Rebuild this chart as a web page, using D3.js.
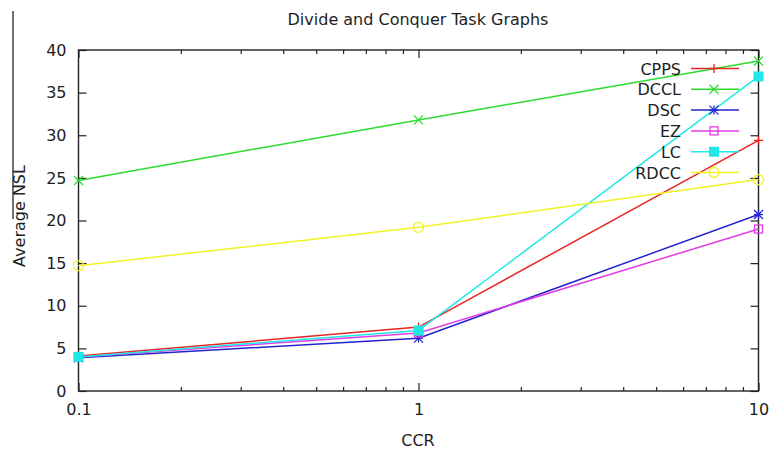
<!DOCTYPE html>
<html>
<head>
<meta charset="utf-8">
<script src="https://cdn.jsdelivr.net/npm/d3@7"></script>
<style>
  html, body { margin: 0; padding: 0; background: #fff; }
  svg { display: block; font-family: "DejaVu Sans", sans-serif; }
</style>
</head>
<body>
<svg id="chart" width="771" height="452"></svg>
<script>
// CCR values on the (log) x axis
const ccr = [0.1, 1, 10];
// Average NSL per algorithm, one value per CCR
const cpps = [4.1, 7.5, 29.4];
const dccl = [24.7, 31.8, 38.7];
const dsc  = [3.9, 6.2, 20.7];
const ez   = [4.0, 6.8, 19.0];
const lc   = [4.0, 7.1, 36.9];
const rdcc = [14.7, 19.2, 24.8];
const seriesNames = ["CPPS", "DCCL", "DSC", "EZ", "LC", "RDCC"];
const yTicks = [0, 5, 10, 15, 20, 25, 30, 35, 40];
const xTickLabels = ["0.1", "1", "10"];

const series = [
  { name: "CPPS", values: cpps, color: "#e82424", marker: "plus" },
  { name: "DCCL", values: dccl, color: "#2cdc2c", marker: "cross" },
  { name: "DSC",  values: dsc,  color: "#2424cc", marker: "star" },
  { name: "EZ",   values: ez,   color: "#e43ce4", marker: "square" },
  { name: "LC",   values: lc,   color: "#20e8e8", marker: "fsquare" },
  { name: "RDCC", values: rdcc, color: "#f2f224", marker: "circle" }
];

const svg = d3.select("#chart");
const plotL = 78.5, plotR = 758.5, plotT = 50, plotB = 391;
const fs = 16, textColor = "#1e1e1e";

const x = d3.scaleLog().domain([0.1, 10]).range([plotL, plotR]);
const y = d3.scaleLinear().domain([0, 40]).range([plotB, plotT]);

const axisColor = "#222";

// Title
svg.append("text").attr("x", 418).attr("y", 25).attr("text-anchor", "middle")
  .attr("font-size", fs).attr("fill", textColor).text("Divide and Conquer Task Graphs");

// Thin rule at far left
svg.append("line").attr("x1", 13).attr("x2", 13).attr("y1", 11).attr("y2", 219)
  .attr("stroke", "#111").attr("stroke-width", 1.2);

// Y axis label
svg.append("text").attr("transform", "translate(25,216) rotate(-90)")
  .attr("text-anchor", "middle").attr("font-size", fs).attr("fill", textColor).text("Average NSL");

// X axis label
svg.append("text").attr("x", 418).attr("y", 446).attr("text-anchor", "middle")
  .attr("font-size", fs).attr("fill", textColor).text("CCR");

// Axes: ticks point inward, mirrored on the opposite side
const gAxes = svg.append("g");
const yLeft = d3.axisLeft(y).tickValues(yTicks).tickSize(-8).tickPadding(12);
const yRight = d3.axisRight(y).tickValues(yTicks).tickSize(-8).tickFormat("");
const majors = ccr;
const minors = [];
[0.1, 1].forEach(d => { for (let k = 2; k <= 9; k++) minors.push(d * k); });
const xBottom = d3.axisBottom(x).tickValues(majors).tickSize(-8).tickPadding(13)
  .tickFormat((d, i) => xTickLabels[i]);
const xTop = d3.axisTop(x).tickValues(majors).tickSize(-8).tickFormat("");
const xBottomMinor = d3.axisBottom(x).tickValues(minors).tickSize(-4).tickFormat("");
const xTopMinor = d3.axisTop(x).tickValues(minors).tickSize(-4).tickFormat("");

function styleAxis(g) {
  g.select(".domain").remove();
  g.selectAll("line").attr("stroke", axisColor).attr("stroke-width", 1.2);
  g.selectAll("text").attr("font-size", fs).attr("fill", textColor)
    .attr("font-family", "DejaVu Sans, sans-serif");
}
gAxes.append("g").attr("transform", `translate(${plotL},0)`).call(yLeft).call(styleAxis);
gAxes.append("g").attr("transform", `translate(${plotR},0)`).call(yRight).call(styleAxis);
gAxes.append("g").attr("transform", `translate(0,${plotB})`).call(xBottom).call(styleAxis);
gAxes.append("g").attr("transform", `translate(0,${plotT})`).call(xTop).call(styleAxis);
gAxes.append("g").attr("transform", `translate(0,${plotB})`).call(xBottomMinor).call(styleAxis);
gAxes.append("g").attr("transform", `translate(0,${plotT})`).call(xTopMinor).call(styleAxis);

// Plot frame
svg.append("rect").attr("x", plotL).attr("y", plotT).attr("width", plotR - plotL)
  .attr("height", plotB - plotT).attr("fill", "none").attr("stroke", axisColor).attr("stroke-width", 1.4);

// Marker drawing
function drawMarker(g, type, cx, cy, color) {
  const s = 4.5;
  const line = (x1, y1, x2, y2) => g.append("line").attr("x1", x1).attr("y1", y1)
    .attr("x2", x2).attr("y2", y2).attr("stroke", color).attr("stroke-width", 1.3);
  if (type === "plus") {
    line(cx - s, cy, cx + s, cy); line(cx, cy - s, cx, cy + s);
  } else if (type === "cross") {
    line(cx - s, cy - s, cx + s, cy + s); line(cx - s, cy + s, cx + s, cy - s);
  } else if (type === "star") {
    line(cx - s, cy - s, cx + s, cy + s); line(cx - s, cy + s, cx + s, cy - s);
    line(cx - s, cy, cx + s, cy); line(cx, cy - s, cx, cy + s);
  } else if (type === "square") {
    g.append("rect").attr("x", cx - 4).attr("y", cy - 4).attr("width", 8).attr("height", 8)
      .attr("fill", "none").attr("stroke", color).attr("stroke-width", 1.3);
  } else if (type === "fsquare") {
    g.append("rect").attr("x", cx - 5).attr("y", cy - 5).attr("width", 10).attr("height", 10)
      .attr("fill", color);
  } else if (type === "circle") {
    g.append("circle").attr("cx", cx).attr("cy", cy).attr("r", 5)
      .attr("fill", "none").attr("stroke", color).attr("stroke-width", 1.3);
  }
}

// Series lines and points
const lineGen = d3.line().x(d => x(d[0])).y(d => y(d[1]));
const gData = svg.append("g");
series.forEach(s => {
  const pts = ccr.map((c, i) => [c, s.values[i]]);
  gData.append("path").datum(pts).attr("d", lineGen)
    .attr("fill", "none").attr("stroke", s.color).attr("stroke-width", 1.5);
  pts.forEach(p => drawMarker(gData, s.marker, x(p[0]), y(p[1]), s.color));
});

// Legend
const gLeg = svg.append("g");
series.forEach((s, i) => {
  const ly = 68.5 + i * 20.8;
  gLeg.append("text").attr("x", 681).attr("y", ly + 6).attr("text-anchor", "end")
    .attr("font-size", fs).attr("fill", textColor).text(seriesNames[i]);
  gLeg.append("line").attr("x1", 691).attr("x2", 739).attr("y1", ly).attr("y2", ly)
    .attr("stroke", s.color).attr("stroke-width", 1.5);
  drawMarker(gLeg, s.marker, 714, ly, s.color);
});
</script>
</body>
</html>
